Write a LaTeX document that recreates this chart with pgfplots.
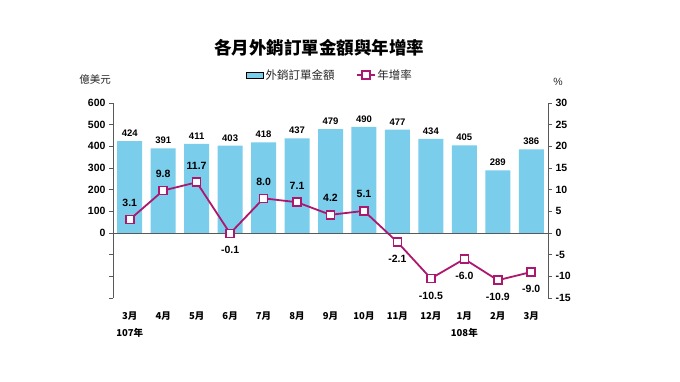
\documentclass[border=0pt]{standalone}
\usepackage{pgfplots}
\pgfplotsset{compat=1.18}
\usepackage{pgfplotstable}
\usepackage{fontspec}
\setmainfont{Liberation Sans}
\newfontfamily\cjk{Noto Sans CJK TC}
\definecolor{barblue}{RGB}{122,205,235}
\definecolor{linemag}{RGB}{172,24,112}

\pgfplotstableread{
x amt yoy
0 424 3.1
1 391 9.8
2 411 11.7
3 403 -0.1
4 418 8.0
5 437 7.1
6 479 4.2
7 490 5.1
8 477 -2.1
9 434 -10.5
10 405 -6.0
11 289 -10.9
12 386 -9.0
}\data

\pgfplotstableread{
x yoy
0 3.1
1 9.8
2 11.7
4 8.0
5 7.1
6 4.2
7 5.1
}\pos

\pgfplotstableread{
x yoy
3 -0.1
8 -2.1
9 -10.5
10 -6.0
11 -10.9
12 -9.0
}\neg

\begin{document}
\begin{tikzpicture}[x=1pt,y=1pt]
\path[use as bounding box] (0,0) rectangle (680,382);

\begin{axis}[
  at={(113pt,84pt)}, anchor=south west,
  scale only axis, width=435pt, height=195pt,
  xmin=-0.5, xmax=12.5, ymin=-300, ymax=600,
  axis y line*=left, axis x line*=bottom,
  x axis line style={draw=none},
  xtick=data, xtick style={draw=none},
  xticklabels={{3月\\107年},4月,5月,6月,7月,8月,9月,10月,11月,{12月},{1月\\108年},2月,3月},
  xticklabel style={align=center, font=\cjk\bfseries\fontsize{9.5}{17}\selectfont, yshift=-6pt},
  ytick={-300,-200,...,600},
  yticklabels={,,,0,100,200,300,400,500,600},
  yticklabel style={font=\bfseries\fontsize{10.5}{12}\selectfont},
  /pgf/number format/assume math mode=true,
  tick align=outside, major tick length=4pt,
  y axis line style={draw=gray!70!black, line width=0.8pt},
  ytick style={draw=gray!70!black, line width=0.8pt},
  clip=false,
]
\addplot[ybar, bar width=25pt, fill=barblue, draw=none,
  nodes near coords,
  every node near coord/.append style={font=\bfseries\fontsize{9.5}{11}\selectfont, text=black, yshift=1pt}]
  table[x=x, y=amt] {\data};
\draw[gray!70!black, line width=0.8pt] (axis cs:-0.5,0) -- (axis cs:12.5,0);
\end{axis}

\begin{axis}[
  at={(113pt,84pt)}, anchor=south west,
  scale only axis, width=435pt, height=195pt,
  xmin=-0.5, xmax=12.5, ymin=-15, ymax=30,
  hide x axis,
  axis y line*=right,
  ytick={-15,-10,...,30},
  yticklabel style={font=\bfseries\fontsize{10.5}{12}\selectfont},
  /pgf/number format/assume math mode=true,
  tick align=outside, major tick length=4pt,
  y axis line style={draw=gray!70!black, line width=0.8pt},
  ytick style={draw=gray!70!black, line width=0.8pt},
  clip=false,
  legend columns=2,
  legend style={draw=none, fill=none, at={(0.4989,1.144)}, anchor=center,
    font=\cjk\fontsize{11.5}{13}\selectfont, text=gray!30!black,
    /tikz/every even column/.append style={column sep=20pt}},
  lab/.style 2 args={draw=none, mark=none, forget plot,
    point meta=explicit,
    nodes near coords={\pgfmathprintnumber[fixed,fixed zerofill,precision=1,assume math mode=true]{\pgfplotspointmeta}},
    every node near coord/.append style={anchor=#1, yshift=#2, font=\bfseries\fontsize{10.5}{12}\selectfont, text=black, inner sep=6pt}},
]
\addlegendimage{area legend, fill=barblue, draw=none}
\addlegendentry{外銷訂單金額}
\addplot[color=linemag, line width=1.8pt, mark=square*,
  mark options={fill=white, draw=linemag, line width=1.6pt, solid}, mark size=4pt]
  table[x=x, y=yoy] {\data};
\addlegendentry{年增率}
\addplot[lab={south}{7pt}] table[x=x, y=yoy, meta=yoy] {\pos};
\addplot[lab={north}{-7pt}] table[x=x, y=yoy, meta=yoy] {\neg};
\end{axis}

\node[font=\cjk\bfseries\fontsize{17.5}{20}\selectfont] at (319,334) {各月外銷訂單金額與年增率};
\node[font=\cjk\fontsize{10.5}{12}\selectfont, text=gray!30!black] at (95,302) {億美元};
\node[font=\fontsize{10.5}{12}\selectfont, text=gray!30!black] at (558,300) {\%};
\end{tikzpicture}
\end{document}
